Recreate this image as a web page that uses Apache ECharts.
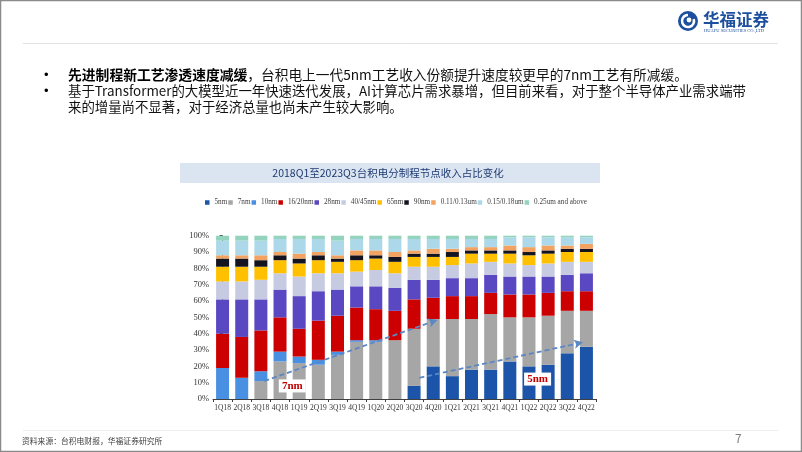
<!DOCTYPE html>
<html>
<head>
<meta charset="utf-8">
<script src="https://cdn.jsdelivr.net/npm/echarts@6/dist/echarts.min.js"></script>
<style>
html,body{margin:0;padding:0;background:#fff;}
#c{width:802px;height:452px;}
</style>
</head>
<body>
<div id="c"></div>
<script>
// ---------- data ----------
const categories = ['1Q18','2Q18','3Q18','4Q18','1Q19','2Q19','3Q19','4Q19','1Q20','2Q20','3Q20','4Q20','1Q21','2Q21','3Q21','4Q21','1Q22','2Q22','3Q22','4Q22'];
const seriesNames = ['5nm','7nm','10nm','16/20nm','28nm','40/45nm','65nm','90nm','0.11/0.13um','0.15/0.18um','0.25um and above'];
const s5nm   = [0,0,0,0,0,0,0,0,0,0,8,20,14,18,18,23,20,21,28,32];
const s7nm   = [0,0,11,23,22,21,27,35,35,36,35,29,35,31,34,27,30,30,26,22];
const s10nm  = [19,13,6,6,4,3,2,1,1,0,0,0,0,0,0,0,0,0,0,0];
const s16nm  = [21,25,25,21,17,24,22,20,19,18,18,13,14,14,13,14,14,14,12,12];
const s28nm  = [21,23,19,17,20,18,16,13,14,14,12,11,11,11,11,11,11,10,10,11];
const s40nm  = [11,11,12,10,12,11,10,9,10,9,8,8,8,9,8,8,7,8,8,7];
const s65nm  = [9,9,8,8,8,8,7,7,7,7,6,6,5,6,5,6,6,6,6,6];
const s90nm  = [5,5,4,3,3,3,2,3,2,3,2,2,3,2,2,2,2,2,2,2];
const s011um = [2,2,3,2,3,2,2,3,3,3,2,3,2,2,2,3,3,3,2,3];
const s015um = [9,9,9,8,9,8,9,7,7,8,7,6,6,5,5,5,6,5,5,4];
const s025um = [3,3,3,2,2,2,3,2,2,2,2,2,2,2,2,1,1,1,1,1];
const seriesValues = [s5nm,s7nm,s10nm,s16nm,s28nm,s40nm,s65nm,s90nm,s011um,s015um,s025um];
const yTicks = [0,10,20,30,40,50,60,70,80,90,100];
// trend arrows: [category position, percent]
const arrow7nm = [[2.18, 11], [11.22, 48.4]];
const arrow5nm = [[10.28, 13], [18.82, 34.7]];
const label7nm = [3.64, 8];
const label5nm = [16.45, 12.2];

const titleText = '2018Q1至2023Q3台积电分制程节点收入占比变化';
const bullet1Bold = '先进制程新工艺渗透速度减缓';
const bullet1Rest = '，台积电上一代5nm工艺收入份额提升速度较更早的7nm工艺有所减缓。';
const bullet2Line1 = '基于Transformer的大模型近一年快速迭代发展，AI计算芯片需求暴增，但目前来看，对于整个半导体产业需求端带';
const bullet2Line2 = '来的增量尚不显著，对于经济总量也尚未产生较大影响。';
const sourceText = '资料来源：台积电财报，华福证券研究所';

// ---------- style ----------
const colors = ['#1b54a8','#a6a6a6','#4a90e2','#cc0000','#5a47c2','#c6cbe2','#ffc000','#141420','#f2a261','#acd8ea','#94d3be'];
const serif = '"Liberation Serif","DejaVu Serif",serif';
const cjk = '"Noto Sans CJK SC","Noto Sans",sans-serif';

const chart = echarts.init(document.getElementById('c'), null, {renderer:'canvas'});

const barSeries = seriesNames.map((n,i)=>({
  name:n, type:'bar', stack:'total', barWidth:13,
  data: seriesValues[i],
  itemStyle:{color:colors[i]},
  emphasis:{disabled:true}
}));

const arrowSeries = {
  type:'line', xAxisIndex:1, yAxisIndex:0, data:[], z:10, silent:true,
  markLine:{
    silent:true, symbol:['none','arrow'], symbolSize:[7,9],
    lineStyle:{color:'#5b87c5', type:[5,3], width:1.8},
    label:{show:false},
    data:[
      [{coord:arrow7nm[0]},{coord:arrow7nm[1]}],
      [{coord:arrow5nm[0]},{coord:arrow5nm[1]}]
    ]
  },
  markPoint:{
    silent:true, symbol:'rect', symbolSize:[27,13],
    itemStyle:{color:'#ffffff'},
    label:{show:true, position:'inside', formatter:'{b}', color:'#c00000', fontWeight:'bold', fontFamily:serif, fontSize:11},
    data:[
      {name:'7nm', coord:label7nm},
      {name:'5nm', coord:label5nm}
    ]
  }
};

const option = {
  animation:false,
  backgroundColor:'#ffffff',
  textStyle:{fontFamily:serif},
  legend:{
    data:seriesNames, left:205, top:199, padding:0, icon:'rect', itemWidth:4.5, itemHeight:4.5, itemGap:1,
    textStyle:{fontSize:7.2, color:'#404040', fontFamily:serif},
    selectedMode:false
  },
  grid:{left:213, right:206, top:235.7, bottom:53, containLabel:false},
  xAxis:[{
    type:'category', data:categories, boundaryGap:true,
    axisLine:{lineStyle:{color:'#404040', width:1}},
    axisTick:{show:true, length:3, lineStyle:{color:'#404040'}},
    axisLabel:{fontSize:7.5, color:'#333', fontFamily:serif, margin:5, interval:0}
  },{
    type:'value', min:-0.5, max:19.5, show:false
  }],
  yAxis:{
    type:'value', min:0, max:100, interval:10,
    axisLine:{show:true, lineStyle:{color:'#404040'}},
    axisTick:{show:true, length:3, lineStyle:{color:'#404040'}},
    splitLine:{show:false},
    axisLabel:{fontSize:8.5, color:'#333', fontFamily:serif, margin:4, formatter:v=>v+'%'}
  },
  graphic:[
    // slide border
    {type:'rect', shape:{x:0.5,y:0.5,width:801,height:451}, style:{fill:'none', stroke:'#8a8a8a', lineWidth:1.5}, z:100, silent:true},
    // header line
    {type:'line', shape:{x1:23,y1:43.5,x2:778,y2:43.5}, style:{stroke:'#e2e2e2', lineWidth:1}, silent:true},
    // footer line
    {type:'line', shape:{x1:23,y1:430.5,x2:778,y2:430.5}, style:{stroke:'#eeeeee', lineWidth:1}, silent:true},
    // logo
    {type:'circle', shape:{cx:688,cy:21,r:10}, style:{fill:'#1d4f9e'}, silent:true},
    {type:'arc', shape:{cx:688,cy:21,r:6,startAngle:-Math.PI*0.1,endAngle:Math.PI*1.5}, style:{stroke:'#ffffff', lineWidth:2.6, fill:'none'}, silent:true},
    {type:'circle', shape:{cx:689,cy:20,r:2.4}, style:{fill:'#ffffff'}, silent:true},
    {type:'text', style:{x:703, y:20, text:'华福证券', fontSize:16.5, fontWeight:'bold', fontFamily:cjk, fill:'#1d4f9e', verticalAlign:'middle'}, silent:true},
    {type:'text', style:{x:704, y:31, text:'HUAFU SECURITIES CO.,LTD', fontSize:4.5, fontFamily:serif, fill:'#1d4f9e', verticalAlign:'middle'}, silent:true},
    // bullets
    {type:'text', style:{x:44, y:75, text:'•', fontSize:13, fill:'#000', verticalAlign:'middle'}, silent:true},
    {type:'text', style:{x:44, y:91, text:'•', fontSize:13, fill:'#000', verticalAlign:'middle'}, silent:true},
    {type:'text', style:{x:68, y:75, verticalAlign:'middle',
      text:'{b|'+bullet1Bold+'}{n|'+bullet1Rest+'}',
      rich:{b:{fontSize:13.8, fontWeight:'bold', fontFamily:cjk, fill:'#000', color:'#000'}, n:{fontSize:13.7, fontFamily:cjk, fill:'#111', color:'#111'}}}, silent:true},
    {type:'text', style:{x:68, y:91, text:bullet2Line1, fontSize:13.4, fontFamily:cjk, fill:'#111', verticalAlign:'middle'}, silent:true},
    {type:'text', style:{x:68, y:107, text:bullet2Line2, fontSize:13.4, fontFamily:cjk, fill:'#111', verticalAlign:'middle'}, silent:true},
    // chart title band
    {type:'rect', shape:{x:180,y:163,width:420,height:20}, style:{fill:'#dbe5f1'}, silent:true},
    {type:'text', style:{x:388, y:173, text:titleText, fontSize:10.5, fontFamily:cjk, fill:'#1f3a70', align:'center', verticalAlign:'middle'}, silent:true},
    // footer
    {type:'text', style:{x:22, y:441, text:sourceText, fontSize:7.8, fontFamily:cjk, fill:'#404040', verticalAlign:'middle'}, silent:true},
    {type:'text', style:{x:735, y:438, text:'7', fontSize:12, fontFamily:cjk, fill:'#7f7f7f', verticalAlign:'middle'}, silent:true}
  ],
  series: barSeries.concat([arrowSeries])
};
chart.setOption(option);
</script>
</body>
</html>
